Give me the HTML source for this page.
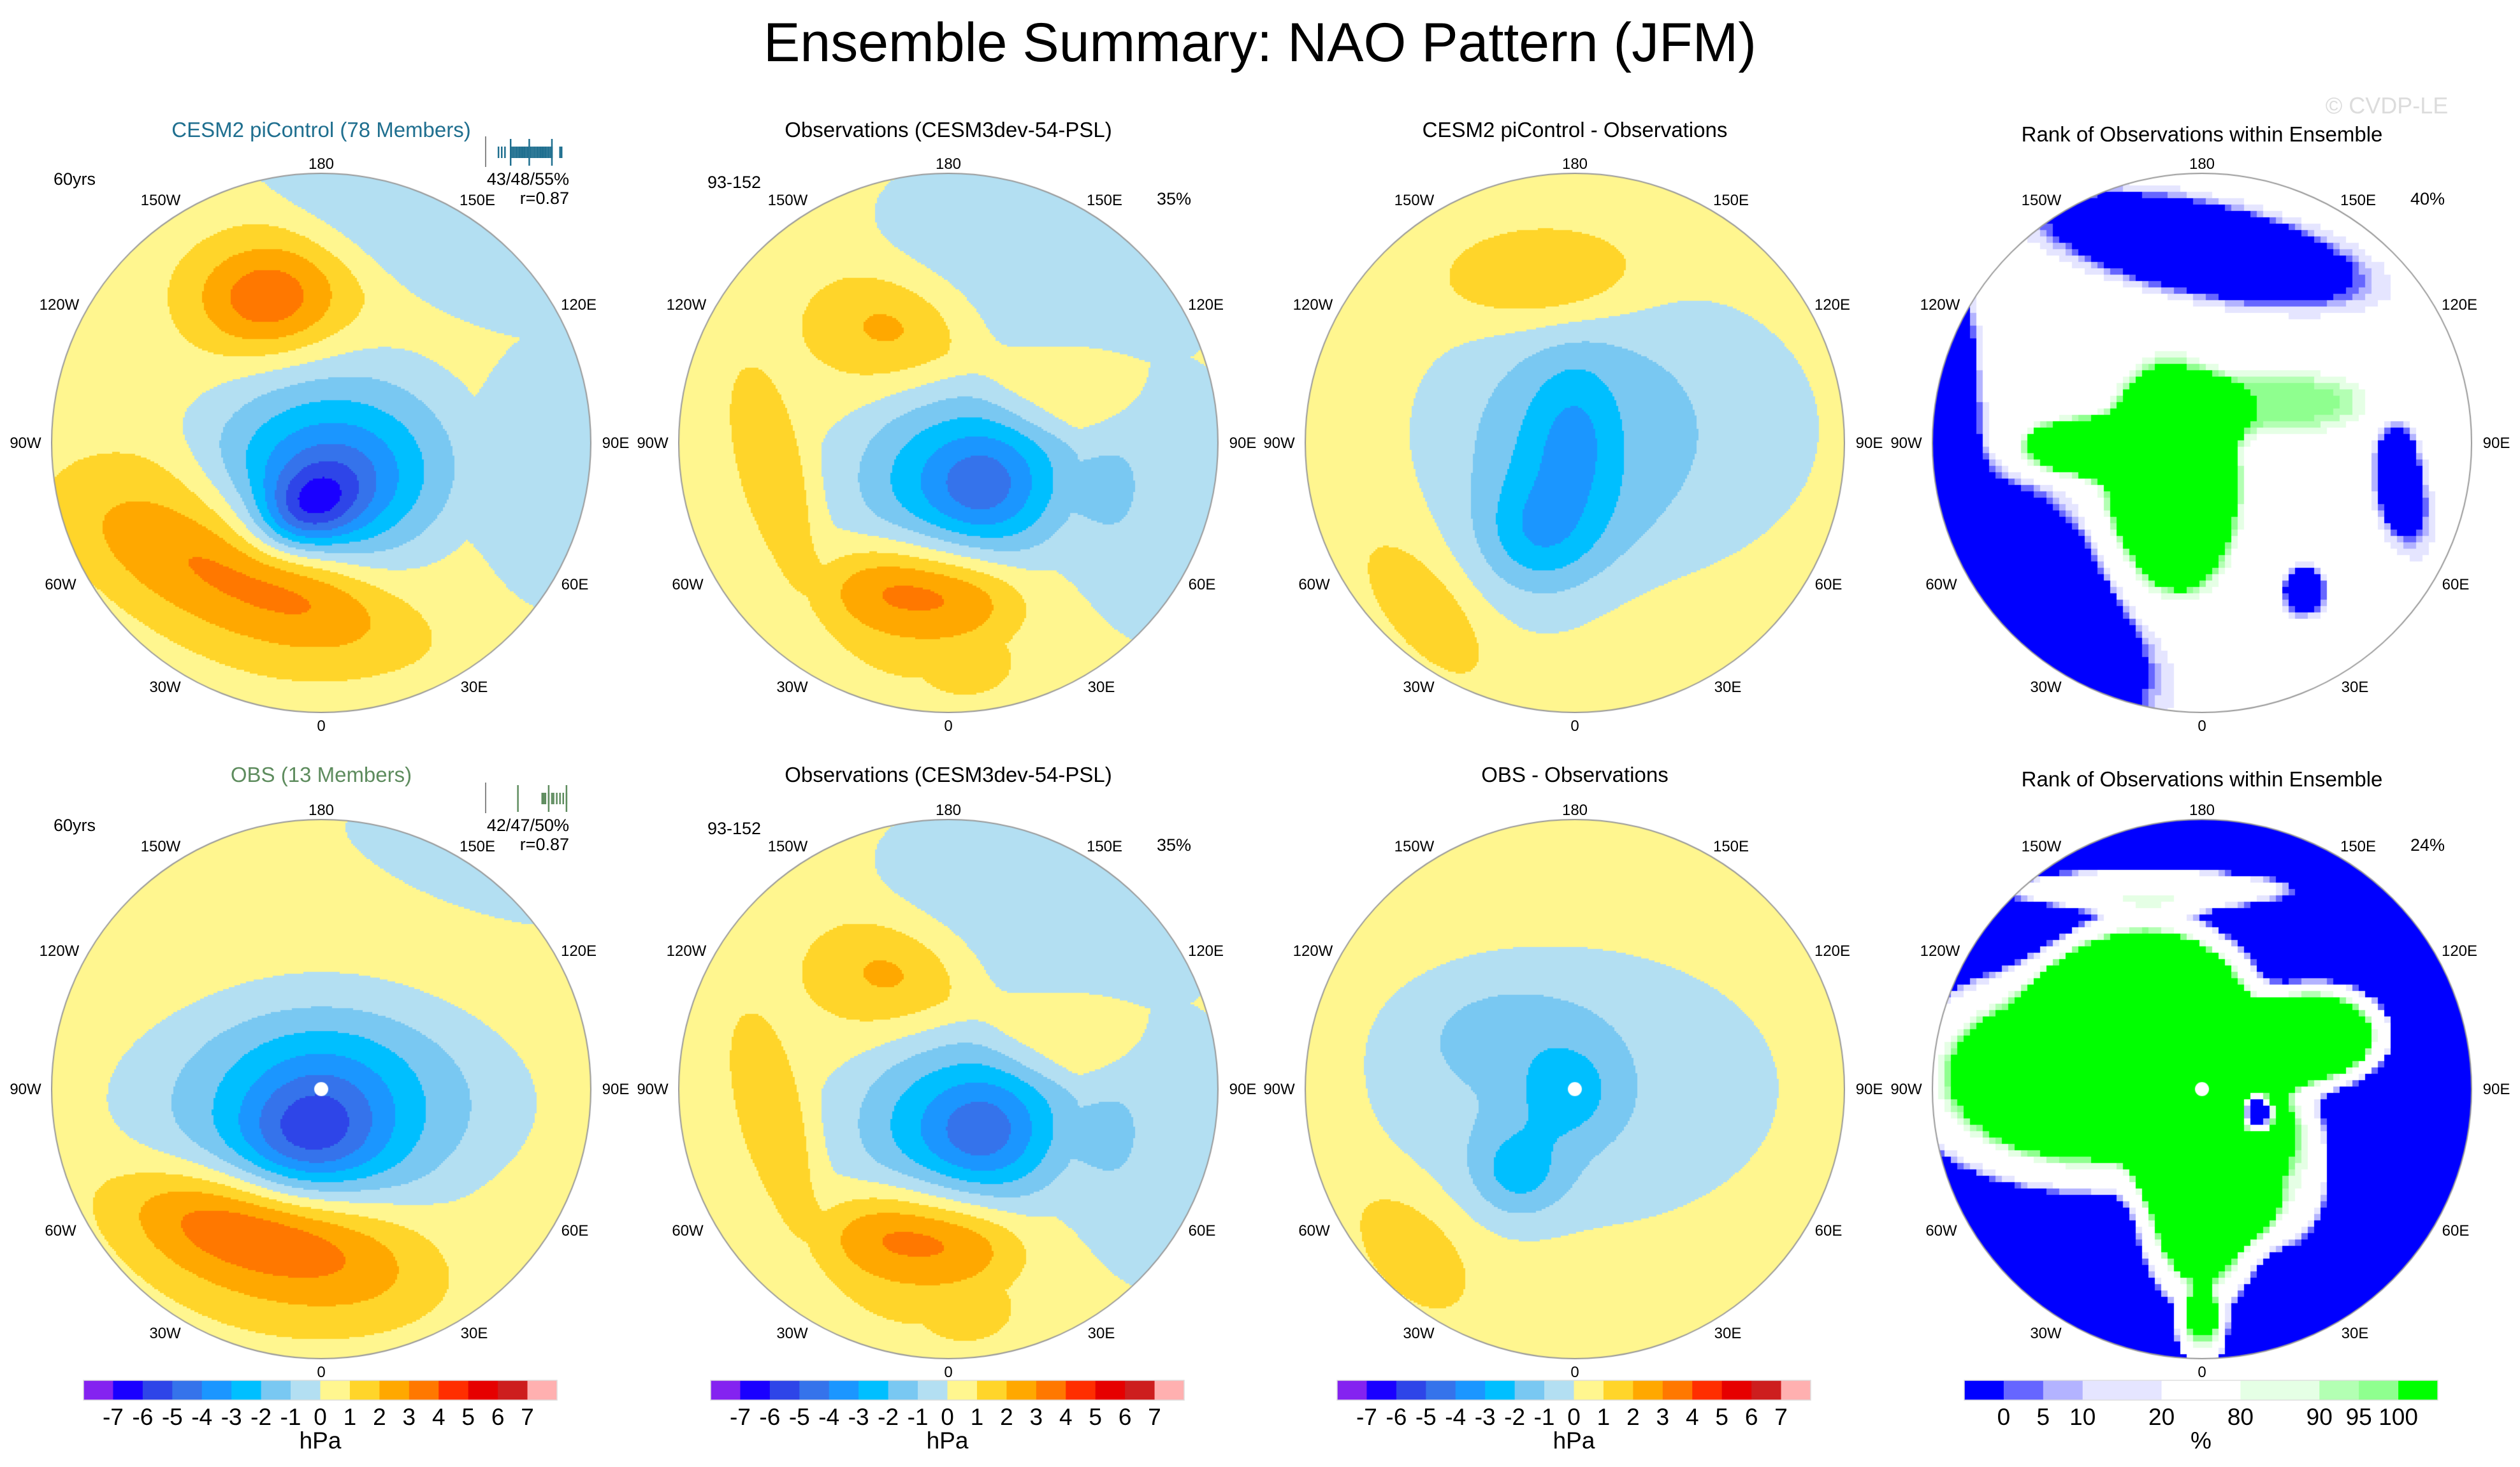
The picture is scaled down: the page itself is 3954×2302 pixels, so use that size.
<!DOCTYPE html>
<html><head><meta charset="utf-8">
<style>
html,body{margin:0;padding:0;background:#fff;}
#root{position:relative;width:3954px;height:2302px;overflow:hidden;font-family:"Liberation Sans",sans-serif;}
canvas{position:absolute;}
svg{position:absolute;left:0;top:0;}
</style></head>
<body>
<div id="root">
<svg id="ov" width="3954" height="2302"></svg>
</div>
<script>
// ---------- data ----------
const hpaLevels = [-7,-6,-5,-4,-3,-2,-1,0,1,2,3,4,5,6,7];
const hpaColors = ["#8423F0","#1A00FF","#2E45E8","#3573EB","#1B96FF","#00BFFF","#79C8F2","#B3DFF2","#FFF68F","#FFD52A","#FFA800","#FF7800","#FF2E00","#E60000","#CD1E1E","#FFB0B0"];
const rankLevels = [0,5,10,20,80,90,95,100];
const rankColors = ["#0000FF","#6666FF","#B3B3FF","#E5E5FF","#FFFFFF","#E5FFE5","#B3FFB3","#8FFF8F","#00FF00"];
const rankWidths = [1,1,1,2,2,2,1,1,1];
const lonLabels = ["180","150E","120E","90E","60E","30E","0","30W","60W","90W","120W","150W"];
const panelTitles = ["CESM2 piControl (78 Members)","Observations (CESM3dev-54-PSL)","CESM2 piControl - Observations","Rank of Observations within Ensemble","OBS (13 Members)","Observations (CESM3dev-54-PSL)","OBS - Observations","Rank of Observations within Ensemble"];
const panelKinds = ["hpa","hpa","hpa","rank","hpa","hpa","hpa","rank"];
const panelBase = [0.4,0.4,0.4,50,0.4,0.4,0.4,-60];
// blobs: [u, v, amplitude, sx, sy, angleDeg, power]  (power 2 = plateau)
const blobs1 = [[-0.05,0.25,-3.2,0.14,0.1,-30,1],[0.04,0.12,-3.5,0.25,0.2,0,1],[0.05,0.05,-1.2,0.45,0.35,0,2],[-0.2,-0.54,3.3,0.2,0.15,0,1],[-0.2,0.52,1.9,0.42,0.13,20,1],[-0.4,0.45,1.3,0.55,0.28,30,2],[0.35,-0.8,-1.0,0.65,0.2,30,2],[0.85,0.1,-1.0,0.25,0.45,0,2]];
const blobs2 = [[0.13,0.15,-2.0,0.14,0.13,0,1],[0.05,0.15,-2.0,0.3,0.22,0,1],[0.1,0.1,-1.2,0.38,0.3,0,2],[-0.12,0.56,1.9,0.25,0.1,5,1],[-0.1,0.6,1.2,0.3,0.25,0,2],[-0.65,0.1,1.2,0.12,0.35,-15,2],[-0.22,-0.43,1.8,0.22,0.15,0,1],[0.06,0.82,1.4,0.15,0.1,0,2],[0.35,-0.65,-1.2,0.55,0.3,20,2],[0.78,0.2,-1.2,0.3,0.45,0,2],[0.45,-0.2,1.0,0.25,0.15,0,2]];
const blobs3 = [[-0.15,0.36,-1.5,0.15,0.14,0,1],[0.0,-0.05,-1.4,0.12,0.2,0,1],[-0.07,0.2,-1.4,0.2,0.3,10,1],[0.15,-0.05,-1.4,0.6,0.45,0,2],[-0.1,-0.6,1.9,0.25,0.13,0,1],[-0.55,0.62,1.5,0.1,0.22,-40,1]];
const blobs4 = [[0.0,-0.72,-130,0.42,0.12,12,1],[-0.92,-0.25,-90,0.07,0.3,0,1],[-0.68,0.62,-150,0.25,0.4,-40,1],[0.72,0.1,-100,0.06,0.14,0,1],[0.38,0.55,-100,0.06,0.07,0,1],[0.8,0.3,-40,0.08,0.15,0,1],[-0.12,0.15,120,0.22,0.38,0,2],[-0.45,0.02,100,0.22,0.1,0,2],[0.3,-0.15,48,0.35,0.12,0,2]];
const blobs5 = [[-0.04,0.16,-2.5,0.18,0.15,-20,1],[0.0,0.08,-2.5,0.3,0.25,0,1],[0.0,0.05,-1.3,0.62,0.32,0,2],[-0.23,0.54,2.6,0.35,0.13,15,1],[-0.15,0.6,1.2,0.5,0.28,10,2],[0.55,-0.82,-1.2,0.4,0.12,20,2]];
const blobs6 = [[0.13,0.15,-2.0,0.14,0.13,0,1],[0.05,0.15,-2.0,0.3,0.22,0,1],[0.1,0.1,-1.2,0.38,0.3,0,2],[-0.12,0.56,1.9,0.25,0.1,5,1],[-0.1,0.6,1.2,0.3,0.25,0,2],[-0.65,0.1,1.2,0.12,0.35,-15,2],[-0.22,-0.43,1.8,0.22,0.15,0,1],[0.06,0.82,1.4,0.15,0.1,0,2],[0.35,-0.65,-1.2,0.55,0.3,20,2],[0.78,0.2,-1.2,0.3,0.45,0,2],[0.45,-0.2,1.0,0.25,0.15,0,2]];
const blobs7 = [[0.0,0.0,-1.2,0.62,0.42,0,2],[-0.3,-0.23,-0.8,0.25,0.15,0,1],[-0.03,0.01,-2.0,0.12,0.12,0,1],[-0.21,0.31,-2.0,0.12,0.12,0,1],[-0.6,0.6,1.3,0.12,0.2,-40,1]];
const blobs8 = [[-0.4,-0.05,220,0.6,0.35,0,2],[-0.2,-0.35,220,0.32,0.25,0,2],[0.0,0.4,220,0.2,0.35,0,2],[0.43,-0.2,220,0.22,0.16,0,2],[0.3,0.3,140,0.15,0.25,0,2],[0.0,0.9,140,0.08,0.12,0,2],[-0.2,-0.74,120,0.5,0.07,0,2],[0.2,0.1,-200,0.05,0.06,0,2]];
const panelBlobs = [blobs1,blobs2,blobs3,blobs4,blobs5,blobs6,blobs7,blobs8];
const pctLabels = ["","35%","","40%","","35%","","24%"];
const members1 = [0.08,0.12,0.16,0.24,0.26,0.28,0.3,0.32,0.34,0.36,0.38,0.4,0.42,0.44,0.46,0.48,0.5,0.52,0.54,0.56,0.58,0.6,0.62,0.64,0.66,0.68,0.7,0.72,0.74,0.84,0.86];
const pct1 = [0.23,0.46,0.74];
const members2 = [0.62,0.64,0.66,0.7,0.74,0.76,0.8,0.84,0.88,0.92];
const pct2 = [0.32,0.7,0.92];
// ---------- geometry ----------
const CX=[504,1488,2471,3455], CY=[695,1709], R=423;
const NS='http://www.w3.org/2000/svg';
const ov=document.getElementById('ov');
function txt(x,y,s,size,anchor,fill,name){const t=document.createElementNS(NS,'text');t.setAttribute('x',x);t.setAttribute('y',y);t.setAttribute('font-size',size);t.setAttribute('text-anchor',anchor||'middle');t.setAttribute('fill',fill||'#000');t.setAttribute('font-family','Liberation Sans, sans-serif');t.textContent=s;


ov.appendChild(t);return t;}
function colorFor(v,kind){
  const lv = kind==='hpa'?hpaLevels:rankLevels, cs = kind==='hpa'?hpaColors:rankColors;
  let i=0; while(i<lv.length && v>=lv[i]) i++; return cs[i];
}
function field(u,v,b,base,kind){
  let s=base, pp=0, pn=0;
  for(const [bu,bv,a,sx,sy,ang,p] of b){
    const r=ang*Math.PI/180, dx=u-bu, dy=v-bv;
    const x=dx*Math.cos(r)+dy*Math.sin(r), y=-dx*Math.sin(r)+dy*Math.cos(r);
    const q=(x*x)/(sx*sx)+(y*y)/(sy*sy);
    const c=a*Math.exp(-0.5*Math.pow(q,p));
    if(kind==='hpa' && p===2){ if(c>pp)pp=c; if(c<pn)pn=c; }
    else s+=c;
  }
  return s+pp+pn;
}
txt(1977,96,"Ensemble Summary: NAO Pattern (JFM)",86,'middle','#000','main-title');
txt(3745,178,"© CVDP-LE",36,'middle','#dcdcdc','watermark');
const offs=[[0,-438],[245,-381],[404,-217],[462,0],[398,222],[240,383],[0,444],[-245,383],[-409,222],[-464,0],[-411,-217],[-252,-381]];
for(let p=0;p<8;p++){
  const col=p%4,row=Math.floor(p/4),cx=CX[col],cy=CY[row],kind=panelKinds[p];
  const cv=document.createElement('canvas');
  cv.width=2*R+2;cv.height=2*R+2;cv.style.left=(cx-R-1)+'px';cv.style.top=(cy-R-1)+'px';
  
  
  document.getElementById('root').insertBefore(cv,ov);
  const g=cv.getContext('2d');
  g.save();g.beginPath();g.arc(R+1,R+1,R,0,2*Math.PI);g.clip();
  const st=kind==='rank'?10:3;
  for(let y=0;y<2*R+2;y+=st)for(let x=0;x<2*R+2;x+=st){
    const u=(x+st/2-R-1)/R,v=(y+st/2-R-1)/R;
    if(u*u+v*v>1.05)continue;
    g.fillStyle=colorFor(field(u,v,panelBlobs[p],panelBase[p],kind),kind);
    g.fillRect(x,y,st,st);
  }
  g.restore();
  g.beginPath();g.arc(R+1,R+1,R,0,2*Math.PI);g.strokeStyle='#999';g.lineWidth=2;g.stroke();
  if(row===1 && p!==5){g.beginPath();g.arc(R+1,R+1,11,0,2*Math.PI);g.fillStyle='#fff';g.fill();}
  for(let i=0;i<12;i++) txt(cx+offs[i][0],cy+offs[i][1]+8,lonLabels[i],24,'middle','#000','lon-label-'+lonLabels[i]);
  const tc = p===0?'#1F6F8F':(p===4?'#5E8C5E':'#000');
  txt(cx,row===0?(col===3?222:215):(col===3?1234:1227),panelTitles[p],33,'middle',tc,'panel-title-'+(p+1));
  if(col===0){
    txt(cx-420,cy-405,'60yrs',27,'start','#000','years-label');
    txt(cx+389,cy-405,row===0?'43/48/55%':'42/47/50%',27,'end','#000','percent-stats');
    txt(cx+389,cy-375,'r=0.87',27,'end','#000','pattern-correlation');
    const mc=row===0?'#1F6F8F':'#5E8C5E', ms=row===0?members1:members2, ps=row===0?pct1:pct2;
    const x0=cx+268,x1=cx+395,yb=cy-471;
    const ln=document.createElementNS(NS,'line');ln.setAttribute('x1',cx+258);ln.setAttribute('x2',cx+258);ln.setAttribute('y1',yb-10);ln.setAttribute('y2',yb+38);ln.setAttribute('stroke','#888');ln.setAttribute('stroke-width',2);
    
    
    ov.appendChild(ln);
    for(const m of ms){const l=document.createElementNS(NS,'line');const xx=x0+m*(x1-x0);l.setAttribute('x1',xx);l.setAttribute('x2',xx);l.setAttribute('y1',yb+6);l.setAttribute('y2',yb+24);l.setAttribute('stroke',mc);l.setAttribute('stroke-width',2.5);
      
      
      ov.appendChild(l);}
    for(const m of ps){const l=document.createElementNS(NS,'line');const xx=x0+m*(x1-x0);l.setAttribute('x1',xx);l.setAttribute('x2',xx);l.setAttribute('y1',yb-6);l.setAttribute('y2',yb+36);l.setAttribute('stroke',mc);l.setAttribute('stroke-width',2.5);
      
      
      ov.appendChild(l);}
  } else if(col===1){
    txt(cx-378,cy-400,'93-152',27,'start','#000','years-label');
  }
  if(pctLabels[p]) txt(cx+381,cy-374,pctLabels[p],27,'end','#000','percent-label');
}
// colorbars
const CBX=[131,1115,2098,3082], CBW=743, CBY=2166, CBH=31;
for(let c=0;c<4;c++){
  const kind=c===3?'rank':'hpa';
  const cols=kind==='hpa'?hpaColors:rankColors;
  const w=kind==='hpa'?hpaColors.map(()=>1):rankWidths;
  const tot=w.reduce((a,b)=>a+b,0);
  let x=CBX[c];const edges=[];
  for(let i=0;i<cols.length;i++){
    const ww=CBW*w[i]/tot;
    const r=document.createElementNS(NS,'rect');r.setAttribute('x',x);r.setAttribute('y',CBY);r.setAttribute('width',ww+0.5);r.setAttribute('height',CBH);r.setAttribute('fill',cols[i]);
    
    
    ov.appendChild(r);
    x+=ww; if(i<cols.length-1) edges.push(x);
  }
  const fr=document.createElementNS(NS,'rect');fr.setAttribute('x',CBX[c]);fr.setAttribute('y',CBY);fr.setAttribute('width',CBW);fr.setAttribute('height',CBH);fr.setAttribute('fill','none');fr.setAttribute('stroke','#ddd');fr.setAttribute('stroke-width',1.5);
  
  
  ov.appendChild(fr);
  const labs=kind==='hpa'?hpaLevels:rankLevels;
  for(let i=0;i<labs.length;i++) txt(edges[i],2236,String(labs[i]),37,'middle','#000','colorbar-tick-label');
  txt(CBX[c]+CBW/2,2273,kind==='hpa'?'hPa':'%',37,'middle','#000','colorbar-units');
}
</script>
</body></html>
